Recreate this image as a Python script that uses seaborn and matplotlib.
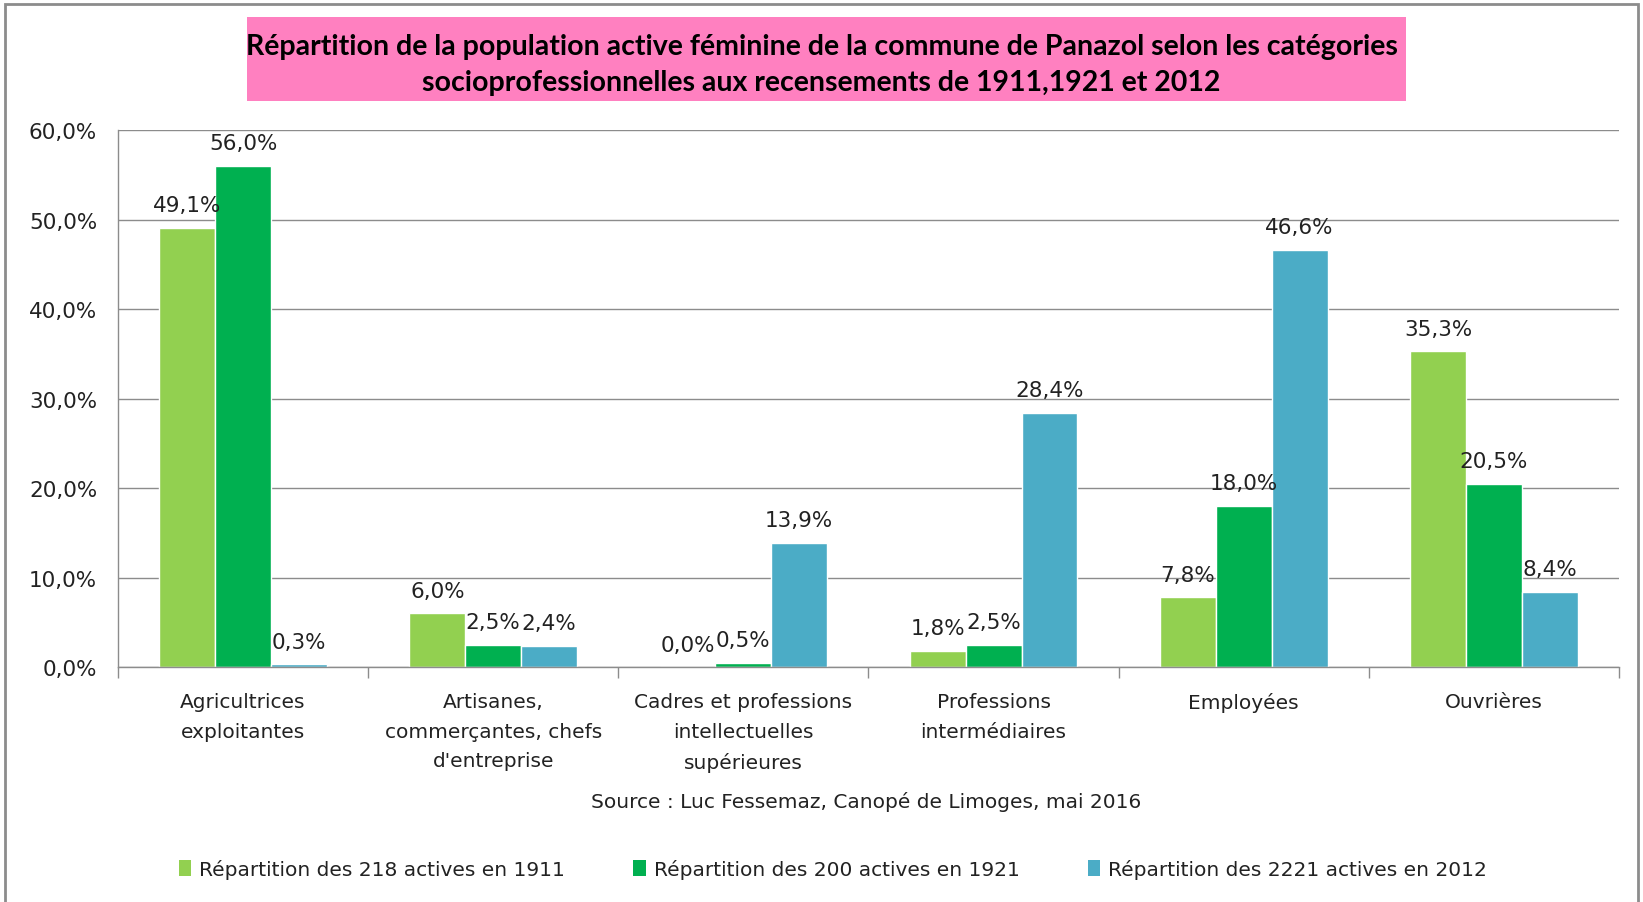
import pandas as pd
import numpy as np
import matplotlib.pyplot as plt
import seaborn as sns
from matplotlib.patches import Rectangle
from matplotlib.ticker import FuncFormatter, FixedLocator

# -----------------------------------
# Data
# -----------------------------------
categories = [
    "Agricultrices\nexploitantes",
    "Artisanes,\ncommerçantes, chefs\nd'entreprise",
    "Cadres et professions\nintellectuelles\nsupérieures",
    "Professions\nintermédiaires",
    "Employées",
    "Ouvrières",
]
series = [
    "Répartition des 218 actives en 1911",
    "Répartition des 200 actives en 1921",
    "Répartition des 2221 actives en 2012",
]
values_1911 = [49.1, 6.0, 0.0, 1.8, 7.8, 35.3]
values_1921 = [56.0, 2.5, 0.5, 2.5, 18.0, 20.5]
values_2012 = [0.3, 2.4, 13.9, 28.4, 46.6, 8.4]
colors = ["#92D050", "#00B050", "#4BACC6"]

df = pd.DataFrame({
    "Catégorie": categories * 3,
    "Série": [s for s in series for _ in categories],
    "Valeur": values_1911 + values_1921 + values_2012,
})

sns.set_theme(style="white")
plt.rcParams["font.family"] = ["DejaVu Sans"]

fig = plt.figure(figsize=(16.43, 9.03), dpi=100)
ax = fig.add_axes([0.0718, 0.2602, 0.9136, 0.5947])

sns.barplot(
    data=df, x="Catégorie", y="Valeur", hue="Série",
    palette=colors, width=0.67, gap=0, saturation=1,
    ax=ax, legend=False,
)

# data labels
for container in ax.containers:
    labels = [f"{v:.1f}%".replace(".", ",") for v in container.datavalues]
    ax.bar_label(container, labels=labels, padding=9, fontsize=15.5, color="#222222")

# axes
ax.set_ylim(0, 60)
ax.set_xlim(-0.5, 5.5)
ax.yaxis.set_major_locator(FixedLocator(np.arange(0, 61, 10)))
ax.yaxis.set_major_formatter(FuncFormatter(lambda v, p: f"{v:.1f}%".replace(".", ",")))
ax.grid(axis="y", color="#8c8c8c", linewidth=1)
ax.set_axisbelow(True)
ax.set_xlabel("")
ax.set_ylabel("")

for side in ["top", "right"]:
    ax.spines[side].set_visible(False)
for side in ["left", "bottom"]:
    ax.spines[side].set_color("#8c8c8c")
    ax.spines[side].set_linewidth(1)

ax.set_xticks(range(len(categories)))
ax.set_xticklabels(categories, fontsize=14.5, color="#222222", linespacing=1.7)
ax.set_xticks(np.arange(-0.5, 6, 1), minor=True)
ax.tick_params(axis="x", which="major", length=0, pad=18)
ax.tick_params(axis="x", which="minor", length=8, color="#8c8c8c", width=1, direction="out")
ax.tick_params(axis="y", length=7, color="#8c8c8c", width=1, direction="out",
               labelsize=15.5, labelcolor="#222222", pad=8)
ax.tick_params(axis="x", which="minor", bottom=True)

# title with pink box
fig.patches.append(Rectangle((247 / 1643, 1 - 102 / 903), (1406 - 247) / 1643, 84 / 903,
                             transform=fig.transFigure, facecolor="#FF80C0",
                             edgecolor="none", zorder=0))
fig.text(0.5, 1 - 65 / 903,
         "Répartition de la population active féminine de la commune de Panazol selon les catégories\n"
         "socioprofessionnelles aux recensements de 1911,1921 et 2012",
         ha="center", va="center", fontsize=20.5, fontweight="bold", color="black",
         linespacing=1.45, family=["Lato", "DejaVu Sans"])

# source
fig.text(0.527, 1 - 802 / 903, "Source : Luc Fessemaz, Canopé de Limoges, mai 2016",
         ha="center", va="center", fontsize=14.5, color="#222222")

# legend
handles = [Rectangle((0, 0), 1, 1, facecolor=c, edgecolor="none") for c in colors]
fig.legend(handles, series, loc="center", bbox_to_anchor=(0.507, 1 - 870 / 903),
           ncol=3, frameon=False, fontsize=14.5, handlelength=0.6, handleheight=0.9,
           handletextpad=0.4, columnspacing=3.4, labelcolor="#222222")

# outer border
fig.patches.append(Rectangle((0.003, -0.01), 0.994, 1.004, transform=fig.transFigure,
                             facecolor="none", edgecolor="#8c8c8c", linewidth=2))

plt.savefig("out.png", dpi=100)
